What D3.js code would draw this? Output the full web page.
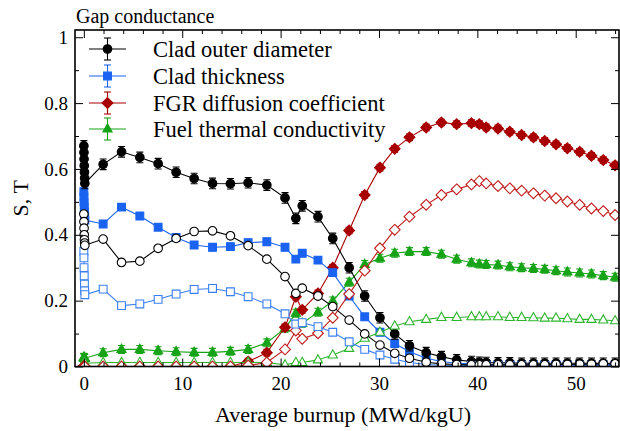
<!DOCTYPE html>
<html>
<head>
<meta charset="utf-8">
<script src="https://cdn.jsdelivr.net/npm/d3@7"></script>
</head>
<body style="margin:0">
<svg id="chart" width="620" height="431"></svg>
<script>
// Average burnup (MWd/kgU) of each calculation point; the first seven sit at the start of life
const burnup = [0, 0.01, 0.02, 0.04, 0.06, 0.08, 0.1,
  1.96, 3.83, 5.69, 7.55, 9.38, 11.21, 13.08, 14.9, 16.7, 18.6, 20.45, 21.55, 22.2, 23.8,
  25.3, 26.97, 28.55, 30.1, 31.6, 33.1, 34.8, 36.35, 37.9, 39.4, 40.2, 40.9, 42.1, 43.3,
  44.5, 45.7, 46.85, 48.0, 49.15, 50.4, 51.6, 52.8, 54.0];

// Sensitivity indices, filled symbols = S, open symbols = T
const cladOuterS = [0.670, 0.650, 0.630, 0.610, 0.590, 0.572, 0.556,
  0.614, 0.652, 0.635, 0.616, 0.590, 0.571, 0.556, 0.555, 0.558, 0.551, 0.512, 0.450, 0.488, 0.455,
  0.389, 0.300, 0.214, 0.148, 0.099, 0.063, 0.042, 0.030, 0.020, 0.015, 0.013, 0.012, 0.011, 0.011,
  0.010, 0.010, 0.010, 0.010, 0.010, 0.010, 0.010, 0.010, 0.010];
const cladOuterT = [0.463, 0.440, 0.420, 0.400, 0.385, 0.375, 0.368,
  0.387, 0.316, 0.320, 0.359, 0.389, 0.410, 0.412, 0.397, 0.367, 0.326, 0.273, 0.222, 0.238, 0.214,
  0.182, 0.141, 0.099, 0.065, 0.040, 0.025, 0.013, 0.008, 0.006, 0.005, 0.005, 0.005, 0.005, 0.005,
  0.005, 0.005, 0.005, 0.006, 0.006, 0.007, 0.007, 0.008, 0.008];
const cladThickS = [0.531, 0.515, 0.500, 0.485, 0.470, 0.458, 0.445,
  0.433, 0.484, 0.457, 0.423, 0.392, 0.369, 0.362, 0.364, 0.376, 0.379, 0.362, 0.326, 0.344, 0.323,
  0.285, 0.214, 0.151, 0.104, 0.070, 0.045, 0.025, 0.015, 0.010, 0.008, 0.007, 0.006, 0.006, 0.006,
  0.005, 0.005, 0.005, 0.005, 0.005, 0.005, 0.005, 0.005, 0.005];
const cladThickT = [0.350, 0.330, 0.300, 0.275, 0.250, 0.230, 0.218,
  0.235, 0.185, 0.190, 0.204, 0.220, 0.234, 0.237, 0.227, 0.212, 0.190, 0.160, 0.129, 0.133, 0.121,
  0.104, 0.075, 0.052, 0.035, 0.022, 0.012, 0.006, 0.004, 0.003, 0.003, 0.003, 0.003, 0.003, 0.003,
  0.003, 0.003, 0.003, 0.003, 0.003, 0.003, 0.003, 0.003, 0.003];
const fgrS = [0, 0, 0, 0, 0, 0, 0,
  0, 0, 0, 0, 0, 0, 0, 0, 0.015, 0.042, 0.119, 0.212, 0.172, 0.222,
  0.300, 0.413, 0.521, 0.604, 0.661, 0.696, 0.726, 0.741, 0.736, 0.739, 0.736, 0.726, 0.723, 0.713,
  0.703, 0.696, 0.685, 0.675, 0.663, 0.652, 0.640, 0.627, 0.611];
const fgrT = [0, 0, 0, 0, 0, 0, 0,
  0, 0, 0, 0, 0, 0, 0, 0, 0.003, 0.012, 0.052, 0.109, 0.084, 0.101,
  0.148, 0.220, 0.291, 0.359, 0.415, 0.455, 0.491, 0.521, 0.538, 0.553, 0.563, 0.556, 0.548, 0.541,
  0.534, 0.526, 0.519, 0.511, 0.501, 0.491, 0.480, 0.472, 0.460];
const fuelCondS = [0.028, 0.027, 0.026, 0.026, 0.025, 0.025, 0.025,
  0.042, 0.052, 0.052, 0.048, 0.045, 0.043, 0.043, 0.046, 0.052, 0.072, 0.116, 0.162, 0.131, 0.165,
  0.199, 0.256, 0.310, 0.329, 0.344, 0.349, 0.349, 0.341, 0.326, 0.315, 0.311, 0.310, 0.308, 0.303,
  0.300, 0.298, 0.295, 0.291, 0.287, 0.284, 0.281, 0.276, 0.271];
const fuelCondT = [0.010, 0.010, 0.010, 0.010, 0.010, 0.010, 0.010,
  0.012, 0.012, 0.012, 0.012, 0.012, 0.012, 0.012, 0.012, 0.012, 0.012, 0.005, 0.012, 0.012, 0.020,
  0.035, 0.055, 0.086, 0.104, 0.123, 0.136, 0.143, 0.149, 0.149, 0.151, 0.151, 0.151, 0.151, 0.149,
  0.149, 0.148, 0.147, 0.147, 0.145, 0.143, 0.143, 0.141, 0.139];

// Half-width of the confidence interval drawn on each S series
const errHalf = [0.016, 0.010, 0.010, 0.012];

const seriesNames = ["Clad outer diameter", "Clad thickness", "FGR diffusion coefficient", "Fuel thermal conductivity"];
const seriesColors = ["#000000", "#1a63f0", "#a80000", "#17a317"];
const openColors = ["#000000", "#3a7ff2", "#c01818", "#2db52d"];
const shapes = ["circle", "square", "diamond", "triangle"];
const sValues = [cladOuterS, cladThickS, fgrS, fuelCondS];
const tValues = [cladOuterT, cladThickT, fgrT, fuelCondT];

const xMajor = [0, 10, 20, 30, 40, 50];
const xMinor = d3.range(0, 55, 2).filter(v => v % 10 !== 0);
const yMajor = [0, 0.2, 0.4, 0.6, 0.8, 1];
const yMinor = [0.1, 0.3, 0.5, 0.7, 0.9];

// Times-style face for every label
const faces = ["Liberation Serif", "Times New Roman", "Tinos"];
const FACE = faces.map(f => `"${f}"`).join(", ") + ", monospace";

const L = 75, R = 619, T = 30, B = 366.5;
const x = d3.scaleLinear().domain([-0.9, 54.4]).range([L, R]);
const y = d3.scaleLinear().domain([0, 1.022]).range([B, T]);

const svg = d3.select("#chart").style("display", "block").style("font-family", FACE);

// marker outlines
function shapePath(kind) {
  const p = d3.path();
  if (kind === "circle") { p.arc(0, 0, 4.3, 0, 2 * Math.PI); }
  else if (kind === "square") { p.rect(-3.9, -3.9, 7.8, 7.8); }
  else if (kind === "diamond") { p.moveTo(0, -5.4); p.lineTo(5.4, 0); p.lineTo(0, 5.4); p.lineTo(-5.4, 0); p.closePath(); }
  else { p.moveTo(0, -5.2); p.lineTo(4.6, 3); p.lineTo(-4.6, 3); p.closePath(); }
  return p.toString();
}

svg.append("defs").append("clipPath").attr("id", "plotClip")
  .append("rect").attr("x", L).attr("y", T - 10).attr("width", R - L).attr("height", B - T + 10);

const plot = svg.append("g").attr("clip-path", "url(#plotClip)");
const line = d3.line().x(d => x(d.b)).y(d => y(d.v));

function drawSeries(i, vals, filled) {
  const data = burnup.map((b, k) => ({ b, v: vals[k] }));
  const col = filled ? seriesColors[i] : openColors[i];
  const g = plot.append("g");
  g.append("path").datum(data).attr("d", line)
    .attr("fill", "none").attr("stroke", col).attr("stroke-width", 1.1);
  if (filled) {
    const e = errHalf[i];
    const eb = g.append("g").attr("stroke", col).attr("stroke-width", 1.1);
    data.forEach(d => {
      const x0 = x(d.b), y1 = y(d.v + e), y2 = y(d.v - e);
      eb.append("line").attr("x1", x0).attr("x2", x0).attr("y1", y1).attr("y2", y2);
      eb.append("line").attr("x1", x0 - 3.5).attr("x2", x0 + 3.5).attr("y1", y1).attr("y2", y1);
      eb.append("line").attr("x1", x0 - 3.5).attr("x2", x0 + 3.5).attr("y1", y2).attr("y2", y2);
    });
  }
  g.selectAll("path.mk").data(data).join("path").attr("class", "mk")
    .attr("d", shapePath(shapes[i]))
    .attr("transform", d => `translate(${x(d.b)},${y(d.v)})`)
    .attr("fill", filled ? col : "#fff")
    .attr("stroke", col).attr("stroke-width", 1.1);
}

[3, 2, 1, 0].forEach(i => drawSeries(i, sValues[i], true));
[3, 2, 1, 0].forEach(i => drawSeries(i, tValues[i], false));

// axes with inward ticks on all four sides
const axes = svg.append("g");
axes.append("g").attr("transform", `translate(0,${B})`)
  .call(d3.axisBottom(x).tickValues(xMajor).tickSize(-8).tickPadding(10).tickFormat(d3.format("d")));
axes.append("g").attr("transform", `translate(0,${B})`)
  .call(d3.axisBottom(x).tickValues(xMinor).tickSize(-4).tickFormat(""));
axes.append("g").attr("transform", `translate(0,${T})`)
  .call(d3.axisTop(x).tickValues(xMajor).tickSize(-8).tickFormat(""));
axes.append("g").attr("transform", `translate(0,${T})`)
  .call(d3.axisTop(x).tickValues(xMinor).tickSize(-4).tickFormat(""));
axes.append("g").attr("transform", `translate(${L},0)`)
  .call(d3.axisLeft(y).tickValues(yMajor).tickSize(-8).tickPadding(7).tickFormat(d => String(+d.toFixed(1))));
axes.append("g").attr("transform", `translate(${L},0)`)
  .call(d3.axisLeft(y).tickValues(yMinor).tickSize(-4).tickFormat(""));
axes.append("g").attr("transform", `translate(${R},0)`)
  .call(d3.axisRight(y).tickValues(yMajor).tickSize(-8).tickFormat(""));
axes.append("g").attr("transform", `translate(${R},0)`)
  .call(d3.axisRight(y).tickValues(yMinor).tickSize(-4).tickFormat(""));
axes.selectAll(".domain").remove();
axes.selectAll("g").attr("font-family", FACE).attr("font-size", 19);
axes.selectAll(".tick line").attr("stroke", "#000");
axes.selectAll(".tick text").attr("fill", "#000").attr("font-family", FACE)
  .style("font-family", FACE).style("font-size", "19px");

svg.append("rect").attr("x", L).attr("y", T).attr("width", R - L).attr("height", B - T)
  .attr("fill", "none").attr("stroke", "#000").attr("stroke-width", 1.6);

// titles
const labels = [
  { t: "Gap conductance", x: 76, y: 22.5, size: 20, anchor: "start", rot: 0 },
  { t: "S, T", x: 28, y: (T + B) / 2, size: 22, anchor: "middle", rot: -90 },
  { t: "Average burnup (MWd/kgU)", x: 343, y: 422, size: 22, anchor: "middle", rot: 0 }
];
svg.selectAll("text.lab").data(labels).join("text").attr("class", "lab")
  .attr("transform", d => `translate(${d.x},${d.y}) rotate(${d.rot})`)
  .attr("text-anchor", d => d.anchor)
  .attr("font-family", FACE)
  .style("font-family", FACE).style("font-size", d => d.size + "px")
  .text(d => d.t);

// legend
const legendRows = [49, 76, 103, 129];
const lg = svg.append("g");
seriesNames.forEach((name, i) => {
  const ry = legendRows[i], col = seriesColors[i];
  const row = lg.append("g");
  row.append("line").attr("x1", 89).attr("x2", 126).attr("y1", ry).attr("y2", ry)
    .attr("stroke", col).attr("stroke-width", 1.1);
  row.append("line").attr("x1", 107.5).attr("x2", 107.5).attr("y1", ry - 11).attr("y2", ry + 11)
    .attr("stroke", col).attr("stroke-width", 1.1);
  [ry - 11, ry + 11].forEach(yy => row.append("line").attr("x1", 104).attr("x2", 111)
    .attr("y1", yy).attr("y2", yy).attr("stroke", col).attr("stroke-width", 1.1));
  row.append("path").attr("d", shapePath(shapes[i])).attr("transform", `translate(107.5,${ry})`)
    .attr("fill", col).attr("stroke", col).attr("stroke-width", 1.1);
});
lg.selectAll("text").data(seriesNames).join("text")
  .attr("x", 153).attr("y", (d, i) => legendRows[i] + 7.5)
  .attr("font-family", FACE)
  .style("font-family", FACE).style("font-size", "22.5px")
  .text(d => d);
</script>
</body>
</html>
